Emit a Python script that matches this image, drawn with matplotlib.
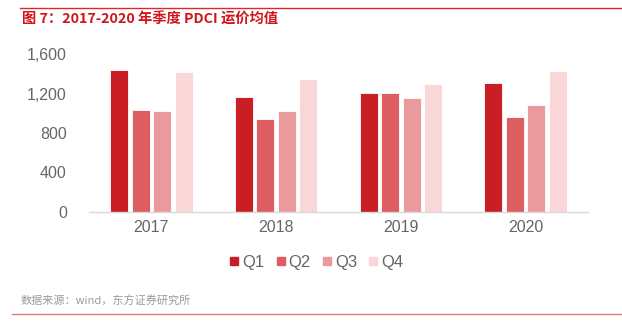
import matplotlib.pyplot as plt
import numpy as np
from matplotlib.lines import Line2D

plt.rcParams['font.family'] = ['Liberation Sans', 'Noto Sans CJK SC', 'DejaVu Sans']

# 数据
years = ["2017", "2018", "2019", "2020"]
quarters = ["Q1", "Q2", "Q3", "Q4"]
q1 = [1438, 1161, 1202, 1306]
q2 = [1033, 945, 1202, 962]
q3 = [1020, 1023, 1158, 1080]
q4 = [1415, 1347, 1293, 1428]
y_ticks = [0, 400, 800, 1200, 1600]

COLORS = ["#C91F24", "#DD5D61", "#EA999C", "#F9D7D9"]
TEXT_GRAY = "#666666"

fig = plt.figure(figsize=(6.22, 3.34), dpi=100)
W, H = 622, 334
ax = fig.add_axes([89 / W, 1 - 212 / H, (588 - 89) / W, (212 - 54) / H])

x = np.arange(len(years))
slot = 0.172
bar_w = slot * 0.84
for i, (vals, col, lab) in enumerate(zip([q1, q2, q3, q4], COLORS, quarters)):
    ax.bar(x + (i - 1.5) * slot, vals, width=bar_w, color=col, label=lab,
           edgecolor="white", linewidth=0.6, zorder=2)

ax.set_xlim(-0.5, len(years) - 0.5)
ax.set_ylim(0, 1600)
ax.set_yticks(y_ticks)
ax.set_yticklabels([f"{v:,}" for v in y_ticks], fontsize=11.5, color=TEXT_GRAY)
ax.set_xticks(x)
ax.set_xticklabels(years, fontsize=11.5, color=TEXT_GRAY)
ax.tick_params(axis="both", length=0)
ax.tick_params(axis="y", pad=16)
ax.tick_params(axis="x", pad=6)
for side in ["top", "right", "left"]:
    ax.spines[side].set_visible(False)
ax.spines["bottom"].set_color("#D9D9D9")
ax.spines["bottom"].set_linewidth(1.0)

handles = [Line2D([0], [0], marker="s", linestyle="none", markersize=5.2,
                  markerfacecolor=c, markeredgecolor=c) for c in COLORS]
fig.legend(handles, quarters, loc="center", bbox_to_anchor=(317 / W, 1 - 262 / H),
           ncol=4, frameon=False, fontsize=12, handlelength=0.45, handletextpad=0.25,
           columnspacing=0.75, labelcolor=TEXT_GRAY)

# 顶部红线与标题
fig.add_artist(Line2D([20 / W, 1.0], [1 - 8 / H, 1 - 8 / H], color="#E0262B", linewidth=1.0))
fig.text(22 / W, 1 - 20 / H, "图 7：2017-2020 年季度 PDCI 运价均值", fontsize=10.3,
         fontweight="bold", color="#D0151B", va="center",
         family=["Noto Sans CJK SC", "DejaVu Sans"])

# 数据来源与底部线
fig.text(21 / W, 1 - 301 / H, "数据来源：wind，东方证券研究所", fontsize=8,
         color="#9A9A9A", va="center", family=["Noto Sans CJK SC", "DejaVu Sans"])
fig.add_artist(Line2D([12 / W, 1.0], [1 - 314 / H, 1 - 314 / H], color="#E87777", linewidth=1.0))

fig.savefig("out.png", dpi=100)
